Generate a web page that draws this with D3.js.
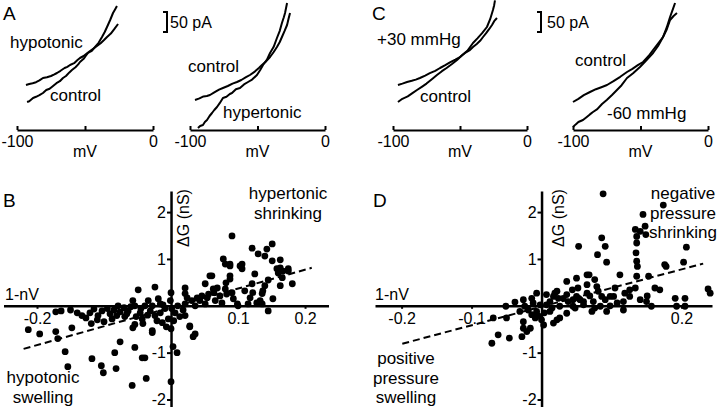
<!DOCTYPE html>
<html><head><meta charset="utf-8">
<script src="https://cdn.jsdelivr.net/npm/d3@7"></script>
<style>
body{margin:0;background:#fff}
svg{display:block}
text{font-family:"Liberation Sans",Arial,Helvetica,sans-serif;fill:#000}
</style>
</head><body>
<svg id="chart" width="720" height="407"></svg>
<script>
// ---------------- DATA ----------------
// I-V traces: [membrane potential (mV), current (pA)]
const mvTicks = [-100, -50, 0];
const mvTickLabels = ["-100", "", "0"];

const traceA1_hypotonic = [[-93.4,-87.5],[-91,-85],[-88.5,-83],[-86,-80.5],[-83.5,-76],[-80.9,-70],[-78,-68],[-75,-65],[-72.5,-61],[-70.6,-57.5],[-68,-52],[-65,-45],[-63,-42],[-61,-37.5],[-58,-33],[-55.5,-25],[-53.7,-20],[-51,-15],[-48.5,-8],[-46.3,-2.5],[-44,3],[-41.2,10],[-38.5,17],[-36,25],[-33.8,32.5],[-31,41],[-28.5,52],[-25.7,65]];
const traceA1_control = [[-92.6,-130],[-91,-128],[-88.2,-120],[-86,-117],[-83.5,-113],[-80.9,-107.5],[-78.5,-100],[-76,-97],[-73.5,-90],[-71,-83],[-68.5,-78],[-66.2,-70],[-64,-65],[-61.5,-56],[-59.6,-50],[-57,-43],[-55,-36],[-53.7,-30],[-51,-22],[-49.5,-15],[-47.8,-7.5],[-45,-2],[-42.6,7.5],[-40,18],[-37.5,32.5],[-35.5,45],[-33.8,57.5],[-31.5,75],[-29.4,92.5],[-27.8,102],[-26.5,110]];
const traceA2_control = [[-96.3,-125],[-93,-121],[-90,-116],[-87.5,-115],[-85.2,-112.5],[-82,-106],[-78.5,-99],[-75.6,-95],[-72,-90],[-68.5,-84],[-65.2,-80],[-62,-75],[-58.5,-68],[-55.6,-62.5],[-52,-54],[-49,-45],[-46.7,-37.5],[-43.5,-28],[-40.7,-17.5],[-38,-5],[-35.6,7.5],[-33.5,20],[-31.9,32.5],[-30,47],[-28.1,62.5],[-27,78],[-25.9,92.5]];
const traceA2_hypertonic = [[-94.1,-195],[-92.5,-190],[-90.4,-187.5],[-89,-180],[-87.4,-175],[-85.5,-165],[-83.7,-157.5],[-82,-150],[-80,-142.5],[-78,-133],[-75.6,-120],[-73,-117],[-70.5,-110],[-68.9,-107.5],[-66,-98],[-63,-95],[-60,-86],[-57,-80],[-54,-74],[-50.4,-62.5],[-48,-50],[-45.9,-37.5],[-43,-24],[-40.7,-7.5],[-38,8],[-35.6,30],[-33.5,48],[-31.9,67.5],[-30.5,82],[-29.6,92.5],[-28.1,117.5]];
const traceC1_plus30 = [[-96.3,-87.5],[-93,-84],[-89.5,-80],[-86,-77],[-83,-74],[-79.9,-70],[-76,-64],[-72.5,-58],[-68.5,-52],[-64.9,-45],[-61,-38],[-57.5,-31],[-53.5,-24],[-50,-17.5],[-46.5,-8],[-43,-1],[-40.3,7.5],[-37.5,15],[-35,23],[-32.8,32.5],[-30.5,42],[-28.3,52],[-26.1,62.5],[-24.5,72],[-22.4,80]];
const traceC1_control = [[-96.3,-130],[-93,-122],[-89,-116],[-85.5,-108],[-82.1,-100],[-78.5,-92],[-75,-84],[-71,-73],[-67.2,-62.5],[-63.5,-53],[-60,-45],[-56,-35],[-52.2,-25],[-48.5,-13],[-44.5,-2],[-40.3,17.5],[-37,29],[-33.5,42],[-29.9,57.5],[-27.5,77],[-25.4,100],[-24.5,112],[-23.9,124]];
const traceC2_control = [[-100,-130],[-96,-122],[-92,-113],[-87.4,-105],[-83,-98],[-79,-93],[-74.8,-87.5],[-70,-78],[-65,-67],[-60,-55],[-56,-47],[-52,-38],[-48.1,-30],[-44,-15],[-40.7,0],[-37,16],[-33.3,32.5],[-30.5,52],[-28.1,75],[-25.5,85],[-23,92.5]];
const traceC2_minus60 = [[-100,-192.5],[-98,-186],[-96,-180],[-92.6,-175],[-90,-168],[-87.5,-161],[-85.2,-155],[-82,-148],[-78.5,-135],[-75,-125],[-71.1,-112.5],[-68,-102],[-64,-88],[-60,-70],[-55.5,-58],[-50.4,-42.5],[-46,-27],[-40.7,-7.5],[-37,10],[-33.3,32.5],[-30.5,57],[-28.1,82.5],[-26,102],[-24.4,117.5]];
const scaleBarPA = 50;

// Scatter: [1-nV, ΔG (nS)]
const yTicksG = [-2, -1, 1, 2];
const xTicksB = [-0.2, 0.1, 0.2];
const xTicksD = [-0.2, -0.1, 0.2];

const scatterB = [[-0.213,-0.51],[-0.196,-0.60],[-0.172,-0.55],[-0.169,-0.70],[-0.172,-0.13],[-0.164,-0.11],[-0.148,-0.47],[-0.140,-0.15],[-0.127,-0.26],[-0.121,-0.15],[-0.119,-0.38],[-0.109,-0.21],[-0.103,-0.11],[-0.100,-0.34],[-0.158,-0.98],[-0.154,-1.30],[-0.118,-1.13],[-0.104,-1.28],[-0.101,-1.43],[-0.084,-1.00],[-0.082,-1.34],[-0.076,-0.77],[-0.058,-1.70],[-0.054,-0.89],[-0.043,-1.11],[-0.039,-1.11],[-0.037,-1.55],[-0.049,0.34],[-0.024,0.40],[-0.057,0.11],[-0.054,0.0],[-0.057,-0.47],[-0.091,-0.17],[-0.076,-0.13],[-0.054,-0.40],[-0.028,-0.57],[0.0,-0.49],[0.028,-0.45],[0.033,-0.66],[0.003,-0.87],[0.009,-1.0],[0.0,-1.62],[0.0,0.28],[-0.016,0.04],[0.024,0.17],[0.031,0.11],[0.043,0.11],[0.051,0.47],[0.058,0.64],[0.069,0.38],[0.081,0.36],[0.081,0.89],[0.054,0.17],[0.021,0.04],[0.028,-0.43],[0.036,-0.60],[-0.028,-0.53],[-0.042,-0.38],[-0.088,-0.28],[-0.081,-0.21],
[-0.039,0.0],[-0.031,-0.11],[-0.024,-0.21],[-0.016,-0.15],[-0.009,-0.06],[-0.004,-0.28],[-0.013,-0.36],[0.006,-0.15],[0.010,0.0],[-0.001,0.11],[-0.019,0.15],[-0.034,0.11],[-0.046,-0.15],[-0.064,-0.11],[-0.069,-0.23],[-0.079,0.0],[-0.021,-0.32],[-0.007,-0.45],[0.004,-0.32],[0.013,-0.23],[0.018,-0.09],[-0.028,0.0],[-0.012,0.02],[0.001,-0.06],[-0.043,-0.28],[-0.052,-0.23],[-0.060,-0.02],
[-0.095,-0.06],[-0.085,-0.09],[-0.070,-0.04],[-0.066,-0.17],[-0.045,-0.06],[-0.035,-0.20],[-0.110,-0.30],[-0.133,-0.21],[-0.150,-0.09],[-0.115,-0.07],
[0.091,1.49],[0.121,1.23],[0.130,1.11],[0.140,1.06],[0.143,1.21],[0.151,1.32],[0.151,0.96],[0.163,0.98],[0.106,0.89],[0.088,0.89],[0.088,0.64],[0.158,0.79],[0.160,0.70],[0.167,0.74],[0.175,0.74],[0.166,0.60],[0.181,0.47],[0.163,0.43],[0.145,0.55],[0.125,0.68],[0.121,0.47],[0.122,0.28],[0.137,0.32],[0.136,0.26],[0.133,0.11],[0.152,0.15],[0.128,0.06],[0.136,0.04],[0.115,0.04],[0.099,0.04],[0.145,-0.11],[0.091,0.28],[0.093,0.15],[0.078,1.0],[0.088,0.85],[0.103,0.85],[0.106,0.79],[0.061,0.64],[0.063,0.36],[0.088,0.57],[0.076,0.06],[0.100,0.0],[0.021,0.38],[0.021,0.26],[0.039,0.17],[0.046,0.21],[0.021,-0.21],[0.163,0.81],[0.175,0.79],[0.066,0.11],[0.073,0.21],[0.036,0.0],[0.051,0.04],[0.064,0.28],[0.082,0.49],[0.110,0.32],[0.118,0.17],[0.140,0.43],[0.056,0.25],[0.083,0.25]];
const fitB = [[-0.22,-0.92],[0.21,0.81]];

const scatterD = [[-0.071,-0.80],[-0.062,-0.62],[-0.046,-0.69],[-0.028,-0.66],[-0.069,-0.26],[-0.050,-0.26],[-0.051,-0.01],[-0.038,0.08],[-0.026,0.13],[-0.007,0.27],[-0.021,-0.55],[-0.016,-0.48],[-0.026,-0.48],[-0.026,-0.34],[-0.031,-0.12],[-0.024,-0.01],[-0.019,-0.09],[-0.014,-0.19],[-0.009,-0.26],[-0.007,-0.12],[0.0,-0.30],[0.003,-0.41],[-0.002,0.02],[0.007,0.02],[0.012,0.09],[0.015,-0.05],[0.022,0.31],[0.024,0.16],[0.026,-0.01],[0.031,0.16],[0.036,0.24],[0.038,0.09],[0.036,0.52],[0.050,0.59],[0.065,0.66],[0.050,0.20],[0.055,0.13],[0.045,-0.01],[0.060,0.02],[0.022,-0.30],[0.017,-0.37],[0.088,2.39],[0.174,2.15],[0.145,1.95],[0.134,1.63],[0.141,1.59],[0.148,1.70],[0.149,1.52],[0.136,1.48],[0.136,1.34],[0.053,1.27],[0.086,1.45],[0.091,1.27],[0.080,1.09],[0.093,0.93],[0.207,1.25],[0.135,1.13],[0.136,0.95],[0.137,0.84],[0.136,0.63],[0.176,0.88],[0.178,0.84],[0.203,0.93],[0.112,0.66],[0.068,0.66],[0.076,0.56],[0.079,0.41],[0.065,0.45],[0.065,0.27],[0.081,0.31],[0.086,0.20],[0.091,0.13],[0.098,0.20],[0.105,0.38],[0.103,0.20],[0.119,0.27],[0.117,0.09],[0.126,0.20],[0.134,0.38],[0.141,0.13],[0.150,0.09],[0.153,0.63],[0.162,0.38],[0.169,0.34],[0.157,-0.01],[0.191,0.16],[0.193,-0.01],[0.205,0.16],[0.205,-0.01],[0.238,0.36],[0.241,0.27],[0.019,0.27],[0.026,-0.26],[0.036,-0.16],[0.045,0.13],[0.053,0.16],[0.060,0.09],[0.048,-0.05],[0.074,0.09],[0.076,-0.05],[0.084,-0.01],[0.093,-0.12],[0.117,-0.09],[0.072,-0.12],[0.012,-0.12],[0.017,0.20],[0.007,0.24],[-0.014,0.16],[-0.012,0.06],[0.004,-0.15],[-0.005,-0.21],[0.098,0.0],[0.108,0.06],[0.069,0.21],[0.151,0.21],[0.126,0.34],[0.044,0.34],[0.052,0.38]];
const fitD = [[-0.199,-0.81],[0.231,0.90]];

// ---------------- DRAW ----------------
const svg = d3.select("#chart");
const FS = 16, FA = 17;

// I-V panels
const yPA = d3.scaleLinear().domain([-200, 125]).range([130, 0]);
const ivPanels = [
  {r:[17,153], traces:[traceA1_hypotonic, traceA1_control],
   labels:[["hypotonic",10,48],["control",50,101]]},
  {r:[190,325], traces:[traceA2_control, traceA2_hypertonic],
   labels:[["control",188,72],["hypertonic",223,118]]},
  {r:[393,527], traces:[traceC1_plus30, traceC1_control],
   labels:[["+30 mmHg",377,45],["control",420,102]]},
  {r:[573,708], traces:[traceC2_control, traceC2_minus60],
   labels:[["control",575,66],["-60 mmHg",607,119]]}
];
ivPanels.forEach(p => {
  const x = d3.scaleLinear().domain([-100, 0]).range(p.r);
  const g = svg.append("g");
  const ax = g.append("g").attr("transform","translate(0,130)")
    .call(d3.axisBottom(x).tickValues(mvTicks).tickSizeInner(-4).tickSizeOuter(0).tickPadding(6)
      .tickFormat((d,i) => mvTickLabels[i]));
  ax.select(".domain").attr("stroke","#000").attr("stroke-width",2);
  ax.selectAll(".tick line").attr("stroke","#000").attr("stroke-width",2);
  ax.selectAll(".tick text").attr("font-size",FS).attr("font-family",null);
  g.append("text").attr("x",(p.r[0]+p.r[1])/2).attr("y",157).attr("text-anchor","middle")
    .attr("font-size",FS).text("mV");
  const line = d3.line().x(d => x(d[0])).y(d => yPA(d[1]));
  p.traces.forEach(t => g.append("path").attr("d", line(t)).attr("fill","none")
    .attr("stroke","#000").attr("stroke-width",2).attr("stroke-linejoin","round"));
  p.labels.forEach(l => g.append("text").attr("x",l[1]).attr("y",l[2]).attr("font-size",FA).text(l[0]));
});

// scale bars
[[167,170],[541,547]].forEach(([bx,tx]) => {
  const y0 = yPA(0), y1 = yPA(scaleBarPA);
  const top = 32 - (y0 - y1);
  svg.append("path").attr("d",`M${bx-4},${top}H${bx}V32H${bx-4}`)
    .attr("fill","none").attr("stroke","#000").attr("stroke-width",2);
  svg.append("text").attr("x",tx).attr("y",28).attr("font-size",FS).text(scaleBarPA + " pA");
});

// panel letters
[["A",3,20],["C",372,20],["B",3,207],["D",373,207]].forEach(d =>
  svg.append("text").attr("x",d[1]).attr("y",d[2]).attr("font-size",19).text(d[0]));

// Scatter panels
function scatter(cfg) {
  const x = d3.scaleLinear().domain(cfg.xd).range(cfg.xr);
  const y = d3.scaleLinear().domain([-2.15, 2.45]).range([406.5, 191]);
  const g = svg.append("g");
  const y0 = y(0), x0 = x(0);
  const ax = g.append("g").attr("transform",`translate(0,${y0})`)
    .call(d3.axisBottom(x).tickValues(cfg.xt).tickSize(3).tickSizeOuter(0).tickPadding(4)
      .tickFormat(d => String(d)));
  const ay = g.append("g").attr("transform",`translate(${x0},0)`)
    .call(d3.axisLeft(y).tickValues(yTicksG).tickSize(4).tickSizeOuter(0).tickPadding(1)
      .tickFormat(d => String(d)));
  [ax, ay].forEach(a => {
    a.select(".domain").attr("stroke","#000").attr("stroke-width",2.5);
    a.selectAll(".tick line").attr("stroke","#000").attr("stroke-width",2);
    a.selectAll(".tick text").attr("font-size",FS).attr("font-family",null);
  });
  const fitLine = d3.line().x(d => x(d[0])).y(d => y(d[1]));
  g.append("path").attr("d", fitLine(cfg.fit)).attr("fill","none")
    .attr("stroke","#000").attr("stroke-width",2).attr("stroke-dasharray","7,4");
  g.selectAll("circle").data(cfg.pts).join("circle")
    .attr("cx", d => x(d[0])).attr("cy", d => y(d[1])).attr("r", 3.4).attr("fill","#000");
  g.append("text").attr("x", cfg.nvx).attr("y", 300).attr("font-size",FS).text("1-nV");
  g.append("text").attr("transform",`translate(${x0 + cfg.gdx},218) rotate(-90)`)
    .attr("text-anchor","middle").attr("font-size",FS).text("ΔG (nS)");
  cfg.notes.forEach(n => {
    const t = g.append("text").attr("x", n.x).attr("y", n.y).attr("text-anchor","middle").attr("font-size",FA);
    n.lines.forEach((s,i) => t.append("tspan").attr("x", n.x).attr("dy", i ? 19.5 : 0).text(s));
  });
}
scatter({xd:[-0.25,0.235], xr:[3.5,328.5], xt:xTicksB, pts:scatterB, fit:fitB, nvx:5, gdx:18,
  notes:[{x:288,y:199,lines:["hypertonic","shrinking"]},{x:43,y:383,lines:["hypotonic","swelling"]}]});
scatter({xd:[-0.238,0.2436], xr:[375,712], xt:xTicksD, pts:scatterD, fit:fitD, nvx:375, gdx:22,
  notes:[{x:683,y:199,lines:["negative","pressure","shrinking"]},{x:406,y:364,lines:["positive","pressure","swelling"]}]});
</script>
</body></html>
